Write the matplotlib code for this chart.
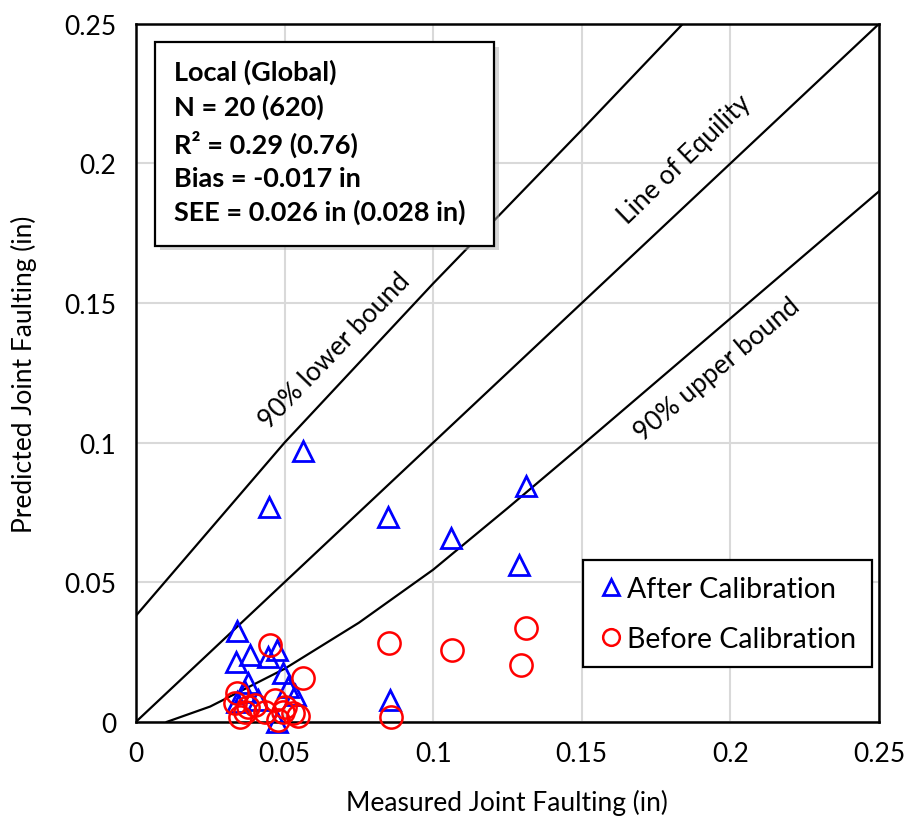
import matplotlib
matplotlib.use("Agg")
import matplotlib.pyplot as plt
from matplotlib.patches import Rectangle

plt.rcParams['font.family'] = ['Lato', 'DejaVu Sans']

# measured / predicted joint faulting (in)
after_meas = [0.0562, 0.0448, 0.0848, 0.1060, 0.1312, 0.1289, 0.0855, 0.0340, 0.0336, 0.0384,
              0.0444, 0.0474, 0.0377, 0.0495, 0.0511, 0.0535, 0.0340, 0.0474, 0.0410, 0.0367]
after_pred = [0.0971, 0.0770, 0.0734, 0.0658, 0.0845, 0.0561, 0.0079, 0.0324, 0.0216, 0.0241,
              0.0234, 0.0259, 0.0140, 0.0176, 0.0126, 0.0097, 0.0072, 0.0000, 0.0080, 0.0108]

before_meas = [0.0851, 0.1063, 0.1312, 0.1295, 0.0858, 0.0451, 0.0562, 0.0340, 0.0333, 0.0377,
               0.0350, 0.0468, 0.0501, 0.0528, 0.0478, 0.0434, 0.0545, 0.0367, 0.0400, 0.0495]
before_pred = [0.0284, 0.0259, 0.0338, 0.0205, 0.0018, 0.0277, 0.0158, 0.0104, 0.0068, 0.0054,
               0.0018, 0.0079, 0.0054, 0.0032, 0.0007, 0.0036, 0.0022, 0.0036, 0.0061, 0.0036]

# reference lines
equal_x = [0.0, 0.25]
equal_y = [0.0, 0.25]
lower_x = [0.0, 0.025, 0.05, 0.1, 0.15, 0.184]
lower_y = [0.038, 0.069, 0.100, 0.157, 0.212, 0.25]
upper_x = [0.0104, 0.025, 0.05, 0.075, 0.1, 0.125, 0.15, 0.2, 0.25]
upper_y = [0.0, 0.0055, 0.019, 0.0355, 0.0545, 0.0765, 0.099, 0.1445, 0.190]

ticks = [0, 0.05, 0.1, 0.15, 0.2, 0.25]
tick_labels = ['0', '0.05', '0.1', '0.15', '0.2', '0.25']

stats_text = ("Local (Global)\nN = 20 (620)\nR\u00b2 = 0.29 (0.76)\n"
              "Bias = -0.017 in\nSEE = 0.026 in (0.028 in)")

fig = plt.figure(figsize=(9.12, 8.29), dpi=100)
ax = fig.add_axes([0.149, 0.128, 0.8148, 0.842])

ax.plot(equal_x, equal_y, color='black', lw=1.6, zorder=2)
ax.plot(lower_x, lower_y, color='black', lw=1.6, zorder=2)
ax.plot(upper_x, upper_y, color='black', lw=1.6, zorder=2)

# markers are not clipped at the axis, as in the original
ax.plot(after_meas, after_pred, linestyle='none', marker='^', ms=15, mfc='none',
        mec='blue', mew=2.0, label='After Calibration', zorder=3, clip_on=False)
ax.plot(before_meas, before_pred, linestyle='none', marker='o', ms=16, mfc='none',
        mec='red', mew=1.8, label='Before Calibration', zorder=4, clip_on=False)

ax.set_xlim(0, 0.25)
ax.set_ylim(0, 0.25)
ax.set_xticks(ticks)
ax.set_xticklabels(tick_labels)
ax.set_yticks(ticks)
ax.set_yticklabels(tick_labels)
ax.tick_params(length=0, labelsize=19, pad=14)
ax.grid(True, color='#d9d9d9', lw=1.5)
ax.set_axisbelow(True)
for s in ax.spines.values():
    s.set_linewidth(1.8)

ax.set_xlabel('Measured Joint Faulting (in)', fontsize=19, labelpad=16)
ax.set_ylabel('Predicted Joint Faulting (in)', fontsize=19, labelpad=20)

# line labels
ax.text(0.067, 0.133, '90% lower bound', fontsize=19, rotation=46,
        ha='center', va='center')
ax.text(0.1847, 0.2015, 'Line of Equility', fontsize=19, rotation=44,
        ha='center', va='center')
ax.text(0.1955, 0.1266, '90% upper bound', fontsize=19, rotation=40,
        ha='center', va='center')

# stats box with soft shadow
ax.add_patch(Rectangle((0.0082, 0.1690), 0.1140, 0.0728, transform=ax.transData,
                       facecolor='#b0b0b0', edgecolor='none', alpha=0.5, zorder=5))
ax.add_patch(Rectangle((0.0064, 0.1705), 0.1140, 0.0730, transform=ax.transData,
                       facecolor='white', edgecolor='black', lw=1.6, zorder=6))
ax.text(0.0128, 0.2375, stats_text, fontsize=19.5, fontweight='bold', ha='left', va='top',
        linespacing=1.45, zorder=7)

leg = ax.legend(loc='upper left', bbox_to_anchor=(0.6016, 0.232), borderaxespad=0,
                fancybox=False, edgecolor='black', framealpha=1, fontsize=20.5,
                handletextpad=0.1, handlelength=0.9, labelspacing=0.85,
                borderpad=0.55, markerscale=0.75)
leg.get_frame().set_linewidth(1.6)
leg.set_zorder(8)

fig.savefig('out.png', dpi=100, facecolor='white')
